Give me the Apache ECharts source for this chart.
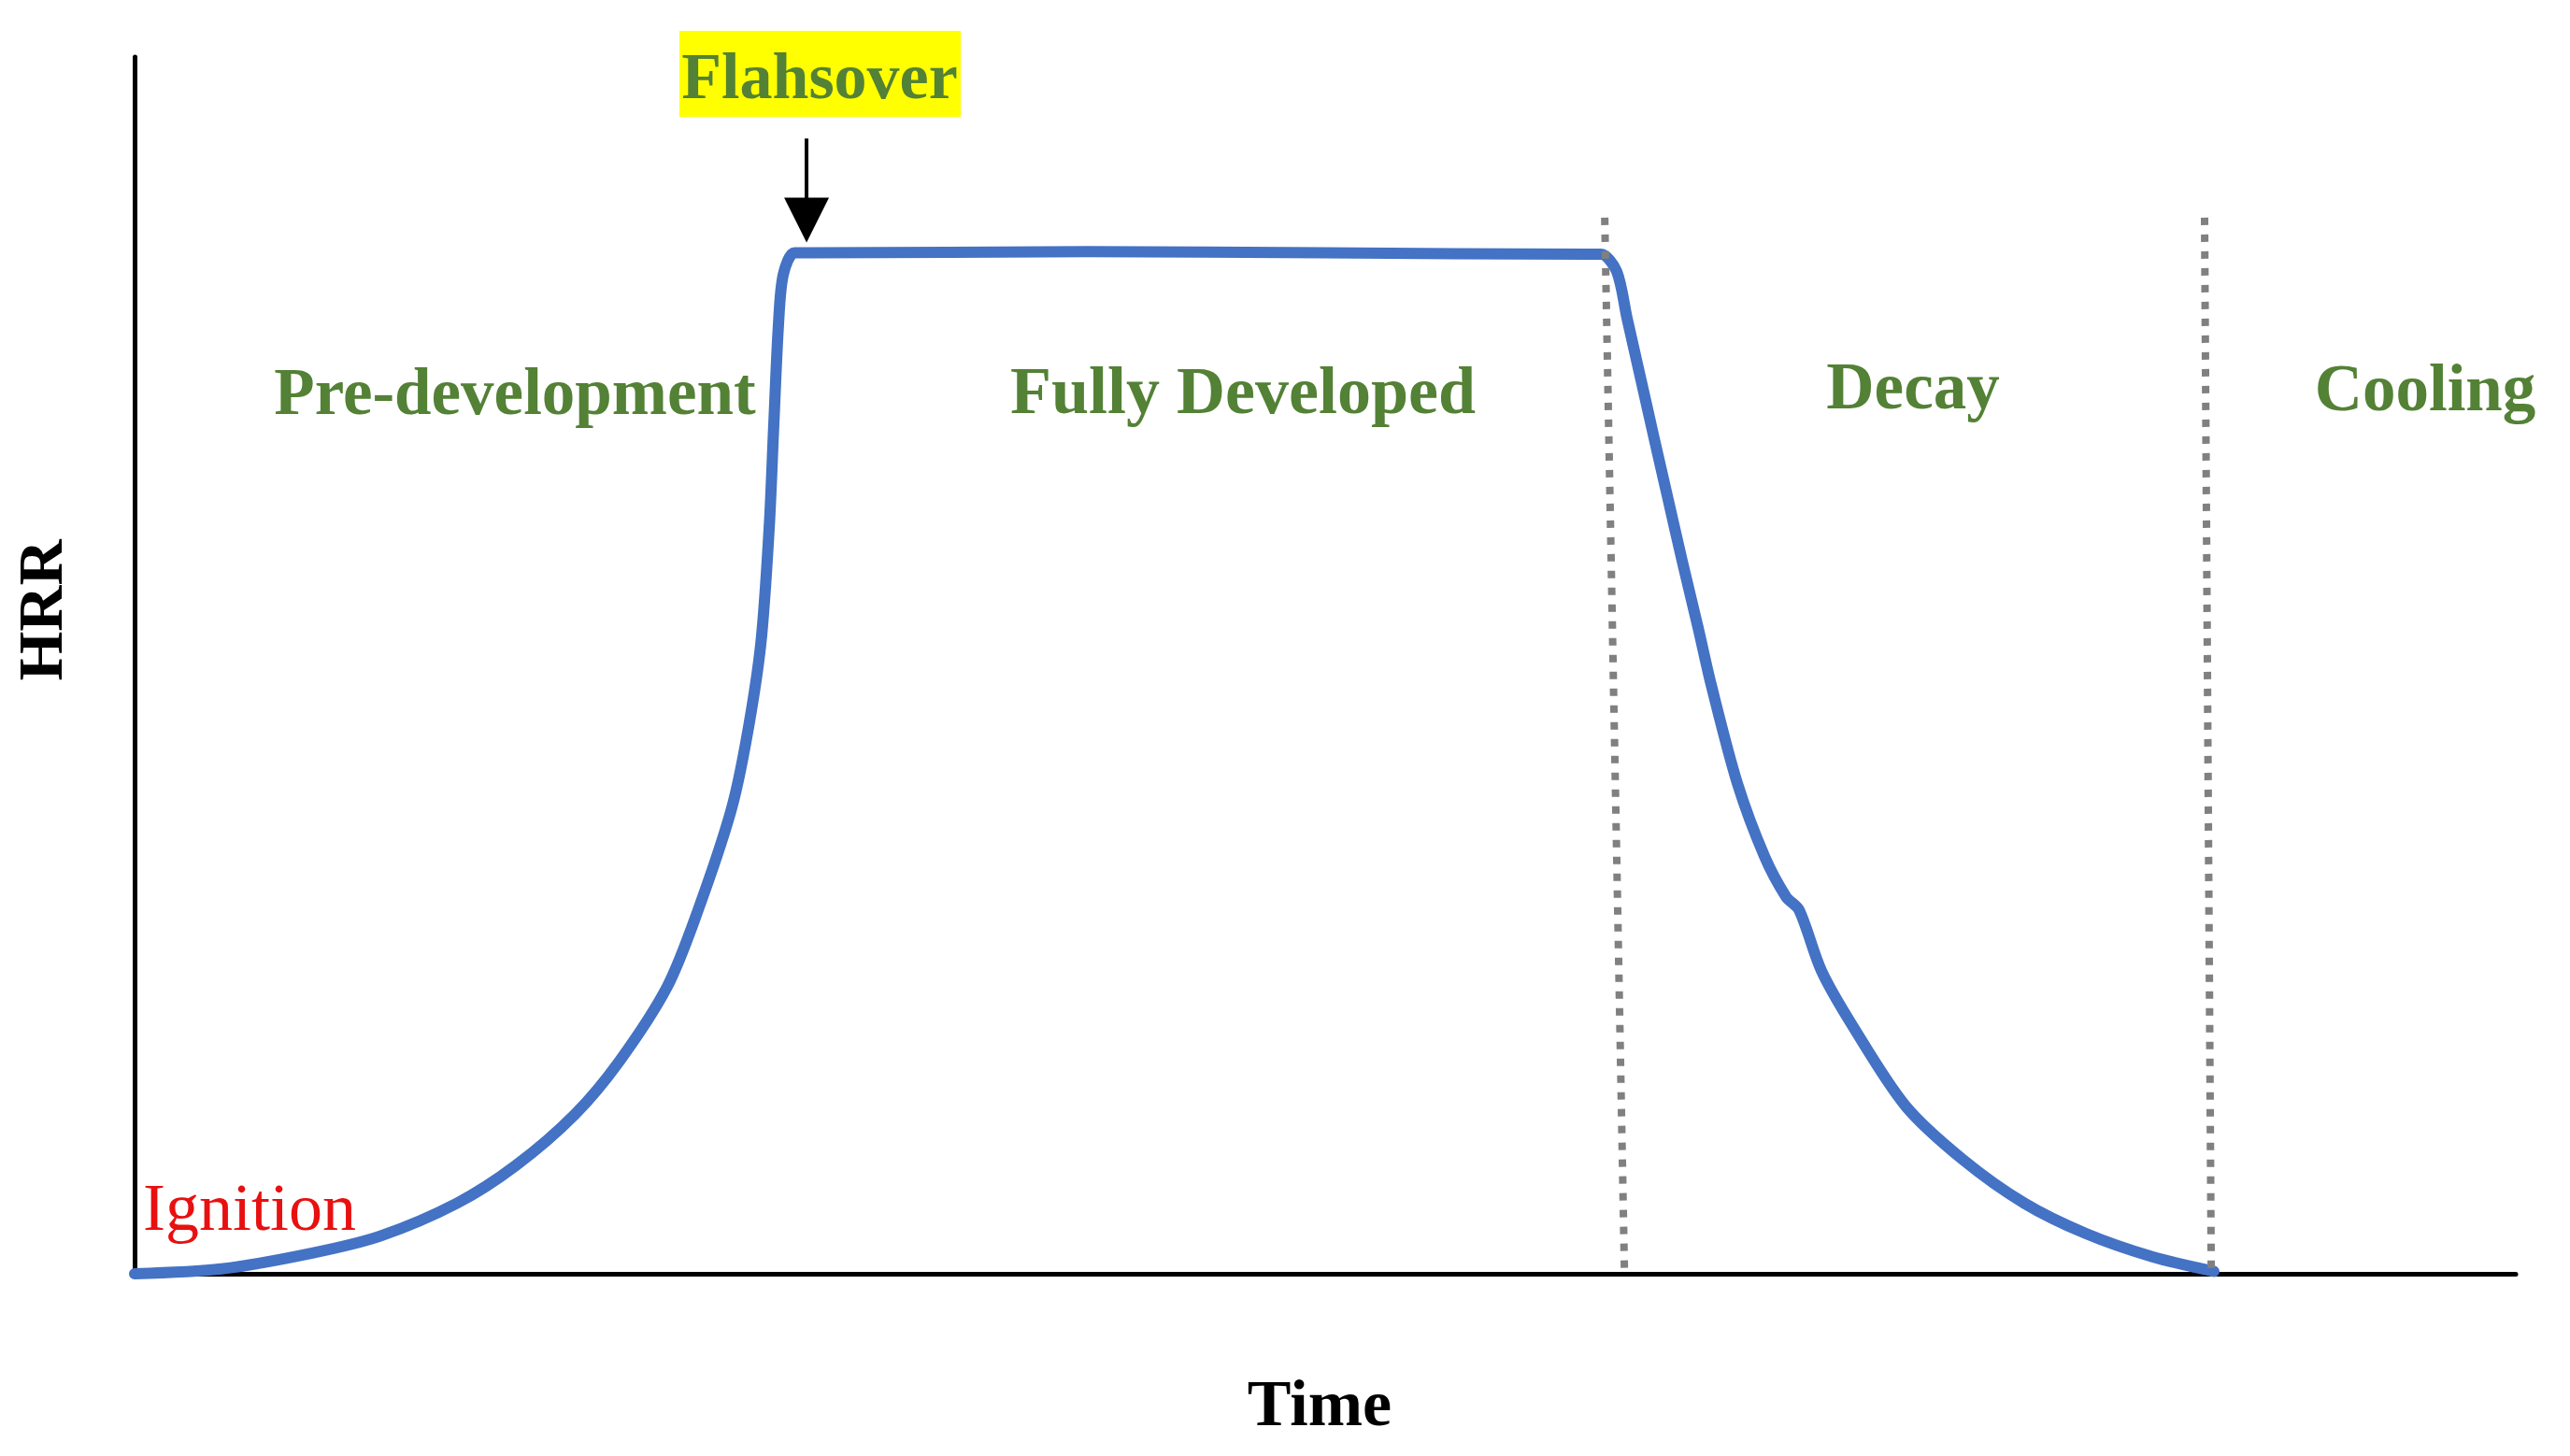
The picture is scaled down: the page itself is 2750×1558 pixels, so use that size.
<!DOCTYPE html>
<html>
<head>
<meta charset="utf-8">
<title>HRR phases</title>
<script src="https://cdn.jsdelivr.net/npm/echarts@6/dist/echarts.min.js"></script>
<style>
  html, body { margin: 0; padding: 0; background: #fff; }
  #main { width: 2750px; height: 1558px; }
</style>
</head>
<body>
<div id="main"></div>
<script>
// time (0-100) and HRR (0-100)
var growthTime = [0, 3.65, 7.46, 10.32, 13.54, 16.01, 18.49, 20.37, 22.37, 23.63, 25.04, 25.71, 26.3, 26.65, 26.84, 27.04, 27.24, 27.71, 28.4];
var growthHrr  = [0, 0.4, 1.7, 3.1, 5.8, 8.9, 13.1, 17.5, 23.6, 29.7, 38.0, 44.1, 51.8, 61.3, 69.6, 78.0, 82.1, 83.9, 83.9];
var plateauTime = [40, 50, 61.0];
var plateauHrr  = [84.0, 83.9, 83.8];
var decayTime = [61.58, 62.24, 62.68, 63.27, 63.81, 64.36, 64.99, 65.66, 66.21, 67.31, 68.45, 69.35, 69.9, 70.84, 72.14, 74.37, 76.77, 79.36, 81.95, 84.73, 87.32];
var decayHrr  = [83.8, 82.4, 78.5, 73.4, 68.7, 64.0, 58.6, 53.1, 48.4, 40.3, 34.3, 31.0, 29.9, 24.9, 20.4, 13.8, 9.4, 5.8, 3.3, 1.4, 0.2];

// phase boundaries (dotted), time at top and at bottom
var boundaryTop = [61.74, 86.93];
var boundaryBottom = [62.57, 87.21];
var boundaryHeight = 86.8;

// flashover arrow
var arrowTime = 28.22;
var arrowFrom = 93.3;
var arrowTo = 86.6;

var curve = [];
for (var i = 0; i < growthTime.length; i++) curve.push([growthTime[i], growthHrr[i]]);
for (var i = 0; i < plateauTime.length; i++) curve.push([plateauTime[i], plateauHrr[i]]);
for (var i = 0; i < decayTime.length; i++) curve.push([decayTime[i], decayHrr[i]]);

var green = '#538135';
var serif = '"Liberation Serif", "DejaVu Serif", serif';

var boundarySeries = boundaryTop.map(function (t, k) {
  return {
    type: 'line',
    data: [[t, boundaryHeight], [boundaryBottom[k], 0]],
    symbol: 'none',
    silent: true,
    z: 4,
    lineStyle: { color: '#808080', width: 8, type: [8, 10] }
  };
});

var myChart = echarts.init(document.getElementById('main'));
var option = {
  animation: false,
  backgroundColor: '#fff',
  grid: { left: 144, right: 58, top: 61, bottom: 195 },
  xAxis: {
    type: 'value', min: 0, max: 100,
    axisLine: { show: true, lineStyle: { color: '#000', width: 5 } },
    axisTick: { show: false }, axisLabel: { show: false }, splitLine: { show: false }
  },
  yAxis: {
    type: 'value', min: 0, max: 100,
    axisLine: { show: true, lineStyle: { color: '#000', width: 5 } },
    axisTick: { show: false }, axisLabel: { show: false }, splitLine: { show: false }
  },
  series: boundarySeries.concat([
    {
      type: 'line',
      data: curve,
      symbol: 'none',
      smooth: 0.3,
      z: 3,
      lineStyle: { color: '#4472C4', width: 12, cap: 'round', join: 'round' },
      markLine: {
        silent: true,
        symbol: ['none', 'triangle'],
        symbolSize: [48, 48],
        label: { show: false },
        lineStyle: { color: '#000', width: 4, type: 'solid' },
        data: [[{ coord: [arrowTime, arrowFrom] }, { coord: [arrowTime, arrowTo] }]]
      }
    }
  ]),
  graphic: [
    { type: 'rect', shape: { x: 727, y: 33, width: 301, height: 92 }, style: { fill: '#FFFF00' }, z: 10 },
    { type: 'text', x: 877, y: 87, z: 11, style: { text: 'Flahsover', font: 'bold 70px ' + serif, fill: green, align: 'center', verticalAlign: 'middle' } },
    { type: 'text', x: 551, y: 425, style: { text: 'Pre-development', font: 'bold 71px ' + serif, fill: green, align: 'center', verticalAlign: 'middle' } },
    { type: 'text', x: 1330, y: 423, style: { text: 'Fully Developed', font: 'bold 72px ' + serif, fill: green, align: 'center', verticalAlign: 'middle' } },
    { type: 'text', x: 2047, y: 419, style: { text: 'Decay', font: 'bold 71px ' + serif, fill: green, align: 'center', verticalAlign: 'middle' } },
    { type: 'text', x: 2595, y: 421, style: { text: 'Cooling', font: 'bold 71px ' + serif, fill: green, align: 'center', verticalAlign: 'middle' } },
    { type: 'text', x: 267, y: 1297, style: { text: 'Ignition', font: '72px ' + serif, fill: '#E81010', align: 'center', verticalAlign: 'middle' } },
    { type: 'text', x: 1412, y: 1507, style: { text: 'Time', font: 'bold 70px ' + serif, fill: '#000', align: 'center', verticalAlign: 'middle' } },
    { type: 'text', x: 48, y: 653, rotation: Math.PI / 2, style: { text: 'HRR', font: 'bold 68px ' + serif, fill: '#000', align: 'center', verticalAlign: 'middle' } }
  ]
};
myChart.setOption(option);
</script>
</body>
</html>
